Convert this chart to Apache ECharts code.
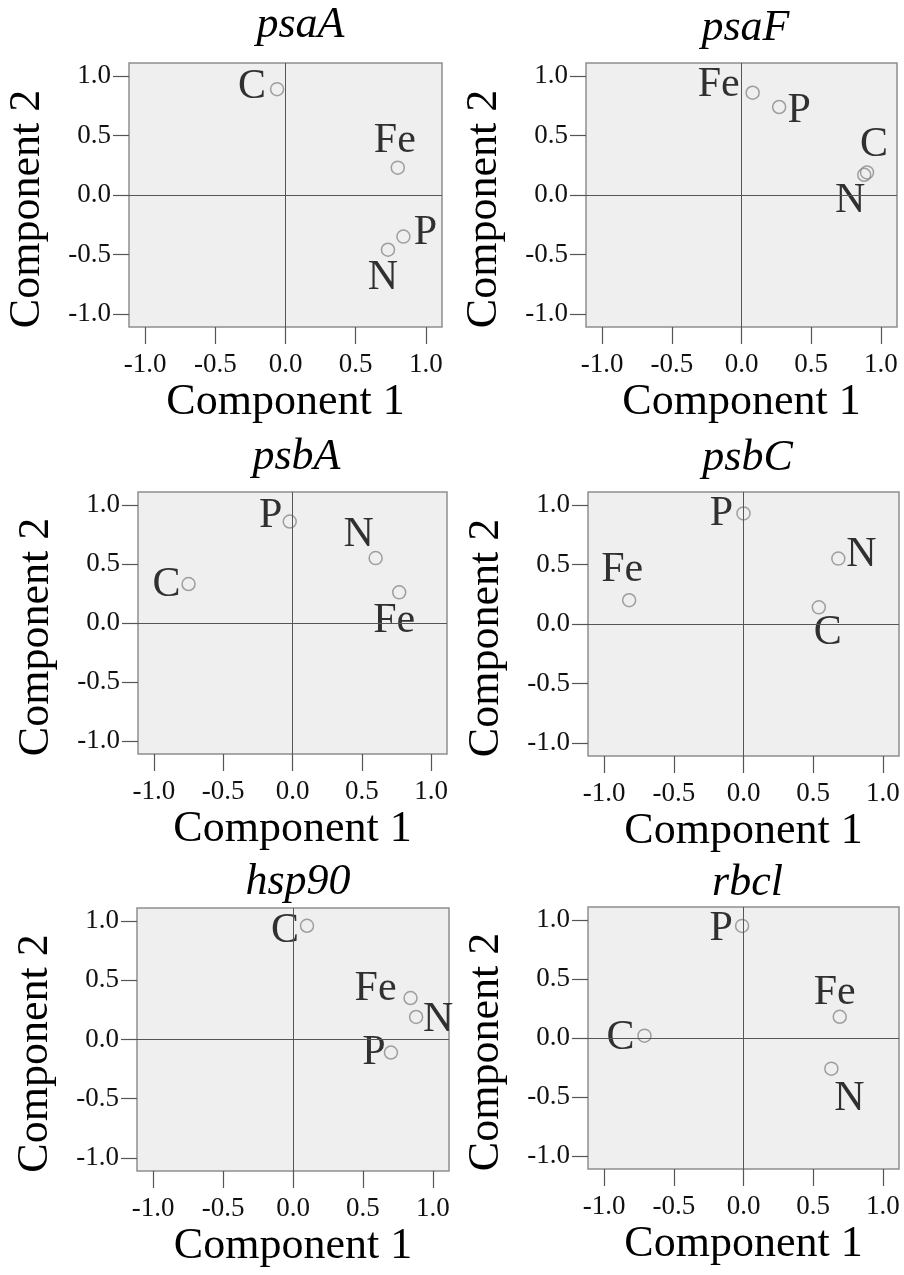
<!DOCTYPE html>
<html>
<head>
<meta charset="utf-8">
<script src="https://cdn.jsdelivr.net/npm/echarts@6/dist/echarts.min.js"></script>
<style>
  html, body { margin: 0; padding: 0; background: #ffffff; }
  #chart { width: 904px; height: 1275px; }
</style>
</head>
<body>
<div id="chart"></div>
<script>
// Component loadings (Component 1, Component 2) of each nutrient per gene
const genes = ['psaA', 'psaF', 'psbA', 'psbC', 'hsp90', 'rbcl'];

const psaA  = [['C', -0.06, 0.89], ['Fe', 0.80, 0.23], ['P', 0.84, -0.35], ['N', 0.73, -0.46]];
const psaF  = [['Fe', 0.08, 0.86], ['P', 0.27, 0.74], ['C', 0.90, 0.19], ['N', 0.88, 0.17]];
const psbA  = [['P', -0.02, 0.86], ['N', 0.60, 0.55], ['C', -0.75, 0.33], ['Fe', 0.77, 0.26]];
const psbC  = [['P', 0.00, 0.93], ['N', 0.68, 0.55], ['Fe', -0.82, 0.20], ['C', 0.54, 0.14]];
const hsp90 = [['C', 0.10, 0.96], ['Fe', 0.84, 0.35], ['N', 0.88, 0.19], ['P', 0.70, -0.11]];
const rbcl  = [['P', -0.01, 0.95], ['Fe', 0.69, 0.18], ['C', -0.71, 0.02], ['N', 0.63, -0.26]];

const tickValues = [-1.0, -0.5, 0.0, 0.5, 1.0];
const xTitle = 'Component 1';
const yTitle = 'Component 2';

const geneData = [psaA, psaF, psbA, psbC, hsp90, rbcl];

// label placement around each marker, [dx, dy] from the marker centre
const labelShift = [
  [[-25, -2], [-3, -27], [22, -4], [-5, 28]],
  [[-34, -8], [20, 4], [7, -27], [-14, 26]],
  [[-19, -6], [-17, -23], [-22, 1], [-5, 29]],
  [[-22, 1], [23, -4], [-7, -30], [9, 26]],
  [[-22, 5], [-35, -9], [22, 3], [-17, 0]],
  [[-21, 3], [-5, -24], [-24, 2], [18, 30]]
];

// plot frames: left, top, width, height
const frames = [
  [129, 63, 313, 264],
  [586, 63, 311, 264],
  [138, 492, 309, 262],
  [588, 492, 311, 264],
  [137, 908, 312, 263],
  [588, 907, 311, 262]
];
const titleTops = [3, 6, 435, 436, 860, 861];
const titleShift = [15, 4, 4, 4, 5, 4];

const serif = "'Liberation Serif', 'Times New Roman', serif";
const XR = 1.115, YR = 1.11;

const option = {
  backgroundColor: '#ffffff',
  animation: false,
  title: [],
  grid: [],
  xAxis: [],
  yAxis: [],
  series: []
};

genes.forEach((gene, i) => {
  const [l, t, w, h] = frames[i];
  option.title.push({
    text: gene,
    left: l + w / 2 + titleShift[i],
    top: titleTops[i],
    textAlign: 'center',
    padding: 0,
    textStyle: { fontFamily: serif, fontStyle: 'italic', fontWeight: 'normal', fontSize: 44, color: '#000' }
  });
  option.grid.push({
    left: l, top: t, width: w, height: h,
    show: true,
    backgroundColor: '#efefef',
    borderColor: '#8e8e8e',
    borderWidth: 1.5
  });
  option.xAxis.push({
    type: 'value', gridIndex: i, min: -XR, max: XR,
    name: xTitle, nameLocation: 'middle', nameGap: 53,
    nameTextStyle: { fontFamily: serif, fontSize: 44, color: '#000' },
    axisLine: { show: false, onZero: false },
    axisTick: { show: true, length: 17, customValues: tickValues, lineStyle: { color: '#555', width: 1.2 } },
    axisLabel: {
      customValues: tickValues, margin: 24,
      fontFamily: serif, fontSize: 27, color: '#111',
      formatter: v => v.toFixed(1)
    },
    splitLine: { show: false }
  });
  option.yAxis.push({
    type: 'value', gridIndex: i, min: -YR, max: YR,
    name: yTitle, nameLocation: 'middle', nameGap: 80, nameRotate: 90,
    nameTextStyle: { fontFamily: serif, fontSize: 44, color: '#000', padding: [0, 28, 0, 0] },
    axisLine: { show: false, onZero: false },
    axisTick: { show: true, length: 16, customValues: tickValues, lineStyle: { color: '#555', width: 1.2 } },
    axisLabel: {
      customValues: tickValues, margin: 18,
      fontFamily: serif, fontSize: 27, color: '#111',
      formatter: v => v.toFixed(1)
    },
    splitLine: { show: false }
  });
  option.series.push({
    type: 'scatter',
    xAxisIndex: i, yAxisIndex: i,
    symbol: 'circle', symbolSize: 13,
    itemStyle: { color: 'rgba(0,0,0,0)', borderColor: '#8a8a8a', borderWidth: 1.5 },
    label: {
      show: true, position: 'inside',
      fontFamily: serif, fontSize: 42, color: '#000',
      formatter: p => p.name
    },
    data: geneData[i].map((d, k) => ({
      name: d[0],
      value: [d[1], d[2]],
      label: { offset: labelShift[i][k], color: '#000' }
    })),
    markLine: {
      silent: true,
      symbol: ['none', 'none'],
      label: { show: false },
      lineStyle: { color: '#555', width: 1, type: 'solid' },
      data: [{ xAxis: 0 }, { yAxis: 0 }]
    }
  });
});

const chart = echarts.init(document.getElementById('chart'), null, { renderer: 'canvas' });
chart.setOption(option);
</script>
</body>
</html>
